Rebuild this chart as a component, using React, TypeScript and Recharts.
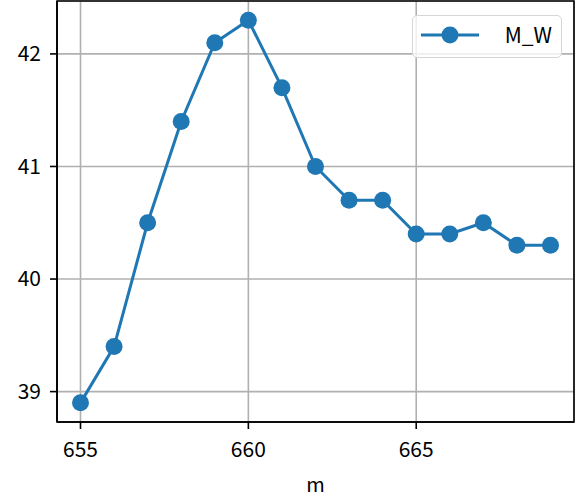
import React from 'react';
import { LineChart, Line, XAxis, YAxis, CartesianGrid, Legend, ReferenceArea } from 'recharts';

const mValues = [655, 656, 657, 658, 659, 660, 661, 662, 663, 664, 665, 666, 667, 668, 669];
const mwValues = [38.9, 39.4, 40.5, 41.4, 42.1, 42.3, 41.7, 41.0, 40.7, 40.7, 40.4, 40.4, 40.5, 40.3, 40.3];
const xTicks = [655, 660, 665];
const yTicks = [39, 40, 41, 42];
const seriesName = 'M_W';
const xLabel = 'm';

const data = mValues.map((m, i) => ({ m, M_W: mwValues[i] }));

const X_DOMAIN: [number, number] = [654.3, 669.7];
const Y_DOMAIN: [number, number] = [38.73, 42.47];

const FONT = '"Noto Sans CJK JP", "DejaVu Sans", sans-serif';
const BLUE = '#1f77b4';

const LegendBox = () => (
  <div
    style={{
      position: 'absolute',
      left: 412,
      top: 15,
      width: 150,
      height: 43,
      boxSizing: 'border-box',
      border: '1.6px solid #d6d6d6',
      borderRadius: 5,
      background: 'rgba(255,255,255,0.8)',
    }}
  >
    <svg width={147} height={40} style={{ position: 'absolute', left: 0, top: 0 }}>
      <line x1={8} y1={19} x2={66} y2={19} stroke={BLUE} strokeWidth={3} />
      <circle cx={37} cy={19} r={8.5} fill={BLUE} />
      <text x={139} y={27} textAnchor="end" fontFamily={FONT} fontSize={21} fill="#000">
        {seriesName}
      </text>
    </svg>
  </div>
);

export default function App() {
  return (
    <div style={{ position: 'absolute', left: 0, top: 0, width: 575, height: 501, background: '#fff' }}>
      <LineChart
        width={575}
        height={501}
        data={data}
        margin={{ top: 1, right: 1, bottom: 0, left: 0 }}
        style={{ fontFamily: FONT }}
      >
        <CartesianGrid stroke="#b0b0b0" strokeWidth={1.6} />
        <XAxis
          dataKey="m"
          type="number"
          domain={X_DOMAIN}
          ticks={xTicks}
          allowDataOverflow
          height={79}
          tickSize={7}
          tickMargin={13}
          stroke="#000"
          strokeWidth={1.6}
          tick={{ fill: '#000', fontSize: 21 }}
          label={{ value: xLabel, position: 'insideBottom', offset: 9, fill: '#000', fontSize: 20 }}
        />
        <YAxis
          type="number"
          domain={Y_DOMAIN}
          ticks={yTicks}
          allowDataOverflow
          width={57}
          tickSize={7}
          tickMargin={9}
          stroke="#000"
          strokeWidth={1.6}
          tick={{ fill: '#000', fontSize: 21 }}
        />
        <ReferenceArea
          x1={X_DOMAIN[0]}
          x2={X_DOMAIN[1]}
          y1={Y_DOMAIN[0]}
          y2={Y_DOMAIN[1]}
          fill="none"
          fillOpacity={0}
          stroke="#000"
          strokeWidth={1.6}
          ifOverflow="visible"
        />
        <Line
          dataKey="M_W"
          name={seriesName}
          stroke={BLUE}
          strokeWidth={3}
          dot={{ r: 8.5, fill: BLUE, stroke: BLUE, strokeWidth: 0 }}
          activeDot={false}
          isAnimationActive={false}
        />
        <Legend content={() => null} />
      </LineChart>
      <LegendBox />
    </div>
  );
}
